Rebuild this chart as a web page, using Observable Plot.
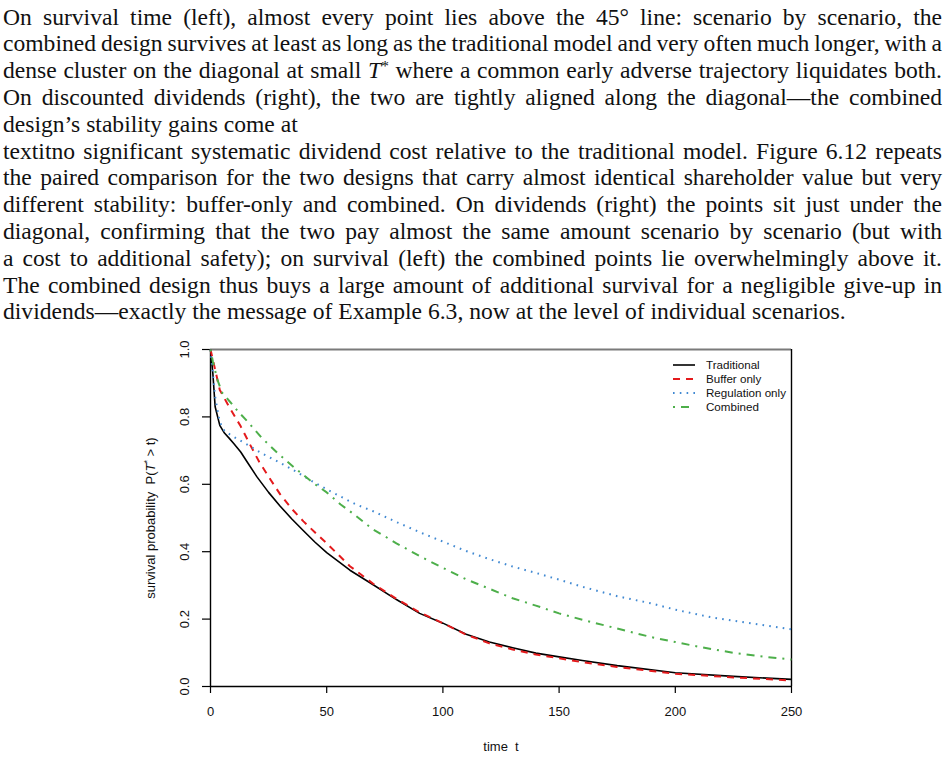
<!DOCTYPE html>
<html>
<head>
<meta charset="utf-8">
<script src="https://cdn.jsdelivr.net/npm/d3@7"></script>
<script src="https://cdn.jsdelivr.net/npm/@observablehq/plot@0.6"></script>
<style>
  html, body { margin: 0; padding: 0; background: #fff; }
  body { width: 945px; height: 762px; position: relative; overflow: hidden; }
  .ln { position: absolute; left: 3px; white-space: nowrap; font-family: "Liberation Serif", "Times New Roman", serif; color: #111; }
  .ln sup { font-size: 0.65em; vertical-align: baseline; position: relative; top: -0.5em; line-height: 0; }
  #chart { position: absolute; left: 0; top: 330px; }
  #chart svg text, #legend text { white-space: pre; }
  #legend { position: absolute; left: 0; top: 0; pointer-events: none; }
</style>
</head>
<body>
<div id="text"></div>
<div id="chart"></div>
<svg id="legend" width="945" height="762"></svg>
<script>
// ---------- paragraph text ----------
const paragraphLines = [
  "On survival time (left), almost every point lies above the 45° line: scenario by scenario, the",
  "combined design survives at least as long as the traditional model and very often much longer, with a",
  "dense cluster on the diagonal at small <i>T</i><sup>*</sup> where a common early adverse trajectory liquidates both.",
  "On discounted dividends (right), the two are tightly aligned along the diagonal—the combined",
  "design’s stability gains come at",
  "textitno significant systematic dividend cost relative to the traditional model. Figure 6.12 repeats",
  "the paired comparison for the two designs that carry almost identical shareholder value but very",
  "different stability: buffer-only and combined. On dividends (right) the points sit just under the",
  "diagonal, confirming that the two pay almost the same amount scenario by scenario (but with",
  "a cost to additional safety); on survival (left) the combined points lie overwhelmingly above it.",
  "The combined design thus buys a large amount of additional survival for a negligible give-up in",
  "dividends—exactly the message of Example 6.3, now at the level of individual scenarios."
];
const justifiedLines = [true, true, true, true, false, true, true, true, true, true, true, false];

// ---------- chart data ----------
const seriesNames  = ["Traditional", "Buffer only", "Regulation only", "Combined"];
const seriesColors = ["#000000", "#e41a1c", "#4189d2", "#4daf4a"];
const seriesDash   = [null, "7,6", "1.6,5.2", "2,6,8,6"];
const seriesWidth  = [1.6, 2, 2, 2];

const tradT = [0, 1, 2, 4, 6, 8, 10, 13, 16, 20, 25, 30, 35, 40, 45, 50, 60, 70, 80, 90, 100, 110, 120, 130, 140, 150, 160, 175, 200, 225, 250];
const tradS = [1.0, 0.93, 0.83, 0.775, 0.752, 0.737, 0.721, 0.696, 0.664, 0.622, 0.576, 0.535, 0.497, 0.462, 0.428, 0.397, 0.345, 0.302, 0.258, 0.217, 0.188, 0.155, 0.132, 0.115, 0.099, 0.088, 0.077, 0.062, 0.041, 0.030, 0.021];

const bufT = [0, 2, 4, 8, 13, 17, 21, 26, 30, 35, 40, 45, 50, 60, 70, 80, 90, 100, 110, 120, 130, 140, 150, 160, 175, 200, 225, 250];
const bufS = [1.0, 0.94, 0.88, 0.83, 0.772, 0.718, 0.666, 0.612, 0.57, 0.527, 0.49, 0.457, 0.425, 0.357, 0.305, 0.26, 0.22, 0.188, 0.154, 0.128, 0.11, 0.095, 0.084, 0.072, 0.058, 0.038, 0.027, 0.018];

const regT = [0, 1, 2, 3, 4, 6, 10, 16, 22, 30, 37, 44, 50, 55, 63, 70, 80, 90, 100, 110, 120, 130, 140, 150, 160, 175, 190, 200, 215, 230, 250];
const regS = [1.0, 0.93, 0.86, 0.82, 0.785, 0.758, 0.741, 0.717, 0.692, 0.664, 0.637, 0.608, 0.585, 0.567, 0.539, 0.52, 0.488, 0.458, 0.43, 0.402, 0.378, 0.356, 0.337, 0.317, 0.296, 0.268, 0.246, 0.228, 0.206, 0.19, 0.17];

const combT = [0, 1, 3, 5, 8, 12, 16, 22, 29, 36, 44, 50, 56, 60, 70, 80, 90, 100, 110, 120, 130, 140, 150, 160, 175, 190, 200, 210, 225, 240, 250];
const combS = [1.0, 0.965, 0.91, 0.872, 0.848, 0.815, 0.786, 0.738, 0.692, 0.65, 0.605, 0.576, 0.54, 0.52, 0.466, 0.425, 0.387, 0.352, 0.318, 0.29, 0.262, 0.24, 0.217, 0.198, 0.172, 0.146, 0.132, 0.118, 0.1, 0.087, 0.08];

const xTicks = [0, 50, 100, 150, 200, 250];
const yTicks = [0.0, 0.2, 0.4, 0.6, 0.8, 1.0];
const xTitle = "time  t";
const yTitle = "survival probability  P(T* > t)";

// ---------- paragraph layout ----------
const textBox = document.getElementById("text");
const lineCenter0 = 17, lineStep = 26.8;
const leftX = 3, rightX = 942, lastLineRight = 846;
const divs = paragraphLines.map((html, i) => {
  const d = document.createElement("div");
  d.className = "ln";
  d.innerHTML = html;
  textBox.appendChild(d);
  return d;
});
divs.forEach(d => d.style.fontSize = "100px");
const w100 = divs[11].getBoundingClientRect().width;
const fs = 100 * (lastLineRight - leftX) / w100;
divs.forEach((d, i) => {
  d.style.fontSize = fs + "px";
  d.style.lineHeight = lineStep + "px";
  d.style.top = (lineCenter0 + i * lineStep - lineStep / 2) + "px";
});
divs.forEach((d, i) => {
  if (!justifiedLines[i]) return;
  const w = d.getBoundingClientRect().width;
  const n = (d.textContent.match(/ /g) || []).length;
  d.style.wordSpacing = ((rightX - leftX - w) / n) + "px";
});

// ---------- chart ----------
const tables = [[tradT, tradS], [bufT, bufS], [regT, regS], [combT, combS]];
const rows = [];
tables.forEach(([ts, ss], k) => ts.forEach((t, j) => rows.push({series: seriesNames[k], t, s: ss[j]})));

const lineMarks = seriesNames.map((name, k) =>
  Plot.line(rows.filter(r => r.series === name), {
    x: "t", y: "s",
    stroke: seriesColors[k],
    strokeWidth: seriesWidth[k],
    strokeDasharray: seriesDash[k] || undefined,
    strokeLinecap: "butt",
    strokeLinejoin: "round"
  })
);

const plot = Plot.plot({
  width: 945,
  height: 432,
  marginTop: 19,
  marginBottom: 76,
  marginLeft: 210,
  marginRight: 154,
  style: { fontFamily: "'Liberation Sans', Arial, Helvetica, sans-serif", fontSize: "13px", background: "white", overflow: "visible", color: "#000" },
  x: { domain: [0, 250] },
  y: { domain: [0, 1] },
  marks: [
    Plot.axisX({ ticks: xTicks, tickSize: 7, tickFormat: () => "", label: null, strokeWidth: 1.2 }),
    Plot.axisY({ ticks: yTicks, tickSize: 8, tickFormat: () => "", label: null, strokeWidth: 1.2 }),
    Plot.ruleY([1], { stroke: "#7a7a7a", strokeWidth: 2 }),
    Plot.ruleY([0], { stroke: "#000", strokeWidth: 1.4 }),
    Plot.ruleX([0, 250], { stroke: "#000", strokeWidth: 1.4 }),
    ...lineMarks,
    Plot.text(xTicks, { x: d => d, frameAnchor: "bottom", dy: 25, text: d => String(d), fontSize: 13, fill: "#111", textAnchor: "middle", lineAnchor: "middle" }),
    Plot.text(yTicks, { y: d => d, frameAnchor: "left", dx: -26, rotate: -90, text: d => d.toFixed(1), fontSize: 13, fill: "#111", textAnchor: "middle", lineAnchor: "middle" }),
    Plot.text([xTitle], { frameAnchor: "bottom", dy: 60, text: d => d, fontSize: 13, fill: "#111", textAnchor: "middle", lineAnchor: "middle" }),
    Plot.text([yTitle], { frameAnchor: "left", dx: -60, rotate: -90, text: d => d, fontSize: 13, fill: "#111", textAnchor: "middle", lineAnchor: "middle" })
  ]
});
document.getElementById("chart").appendChild(plot);

// rich text for the y title: italic T with superscript *
d3.select(plot).selectAll("text").each(function () {
  const el = d3.select(this);
  if (el.text() === yTitle) {
    el.text(null);
    el.append("tspan").text("survival probability  P(");
    el.append("tspan").attr("font-style", "italic").text("T");
    el.append("tspan").attr("dy", "-5").attr("font-size", "9").text("*");
    el.append("tspan").attr("dy", "5").text(" > t)");
  }
});

// ---------- legend ----------
const lg = d3.select("#legend");
const legendY0 = 365, legendStep = 14, sampleX1 = 673, sampleX2 = 695, labelX = 706;
seriesNames.forEach((name, k) => {
  const y = legendY0 + k * legendStep;
  lg.append("line")
    .attr("x1", sampleX1).attr("x2", sampleX2).attr("y1", y).attr("y2", y)
    .attr("stroke", seriesColors[k]).attr("stroke-width", seriesWidth[k])
    .attr("stroke-dasharray", seriesDash[k]);
  lg.append("text")
    .attr("x", labelX).attr("y", y).attr("dy", "0.35em")
    .attr("font-family", "'Liberation Sans', Arial, sans-serif")
    .attr("font-size", 11.6).attr("fill", "#111")
    .text(name);
});
</script>
</body>
</html>
